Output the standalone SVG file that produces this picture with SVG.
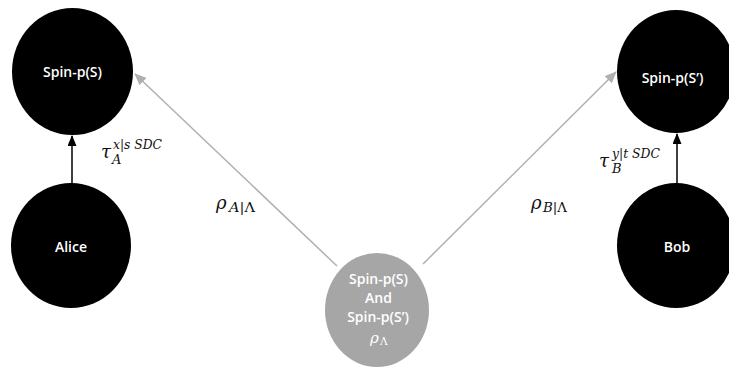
<svg xmlns="http://www.w3.org/2000/svg" width="729" height="368" viewBox="0 0 729 368">
<style>
.node{fill:#000}
.src{fill:#a6a6a6}
.lbl{font-family:"Open Sans","Liberation Sans",sans-serif;font-weight:600;font-size:14px;fill:#fff;text-anchor:middle}
.m{font-family:"DejaVu Serif","Liberation Serif",serif;font-style:italic;fill:#111}
.up{font-style:normal}
.blk{stroke:#000;stroke-width:1.5;fill:none}
.gry{stroke:#b0b0b0;stroke-width:1.5;fill:none}
</style>
<defs>
<marker id="ab" markerUnits="userSpaceOnUse" markerWidth="11" markerHeight="9" refX="10" refY="4.5" orient="auto"><path d="M0,0 L11,4.5 L0,9 z" fill="#000"/></marker>
<marker id="ag" markerUnits="userSpaceOnUse" markerWidth="12" markerHeight="10" refX="11" refY="5" orient="auto"><path d="M0,0 L12,5 L0,10 z" fill="#b0b0b0"/></marker>
</defs>
<rect width="729" height="368" fill="#fff"/>
<g id="connectors">
<line class="blk" x1="72" y1="184" x2="72" y2="136" marker-end="url(#ab)"/>
<line class="blk" x1="677" y1="184" x2="677" y2="134" marker-end="url(#ab)"/>
<line class="gry" x1="337" y1="266" x2="135" y2="74" marker-end="url(#ag)"/>
<line class="gry" x1="423" y1="264" x2="616" y2="72" marker-end="url(#ag)"/>
<g id="label-tauA">
<text class="m" x="101" y="158" font-size="18">τ</text>
<text class="m" x="113" y="149" font-size="12.5" textLength="49" lengthAdjust="spacingAndGlyphs">x|s SDC</text>
<text class="m" x="112" y="164" font-size="13">A</text>
</g>
<g id="label-tauB">
<text class="m" x="599" y="167" font-size="18">τ</text>
<text class="m" x="612" y="158" font-size="12.5" textLength="48" lengthAdjust="spacingAndGlyphs">y|t SDC</text>
<text class="m" x="612" y="173" font-size="13">B</text>
</g>
<g id="label-rhoA">
<text class="m" x="216" y="209" font-size="18">ρ</text>
<text class="m" x="229" y="212" font-size="12.5" textLength="26" lengthAdjust="spacingAndGlyphs">A|<tspan class="up">Λ</tspan></text>
</g>
<g id="label-rhoB">
<text class="m" x="531" y="209" font-size="18">ρ</text>
<text class="m" x="543" y="212" font-size="12.5" textLength="24" lengthAdjust="spacingAndGlyphs">B|<tspan class="up">Λ</tspan></text>
</g>
</g>
<g id="spinS">
<ellipse class="node" cx="72.5" cy="71.5" rx="60.5" ry="63.5"/>
<text class="lbl" x="72.5" y="77">Spin-p(S)</text>
</g>
<g id="spinS2">
<ellipse class="node" cx="676" cy="71.5" rx="59" ry="61.5"/>
<text class="lbl" x="672.5" y="83">Spin-p(S’)</text>
</g>
<g id="alice">
<ellipse class="node" cx="71" cy="245.5" rx="60" ry="62.5"/>
<text class="lbl" x="71" y="252">Alice</text>
</g>
<g id="bob">
<ellipse class="node" cx="676" cy="245.5" rx="59" ry="62.5"/>
<text class="lbl" x="677" y="252">Bob</text>
</g>
<g id="source">
<ellipse class="src" cx="377" cy="310" rx="52" ry="57"/>
<text class="lbl" x="378.5" y="284">Spin-p(S)</text>
<text class="lbl" x="378.5" y="303">And</text>
<text class="lbl" x="378" y="322">Spin-p(S’)</text>
<text class="m" x="370" y="343" font-size="15" style="fill:#fff">ρ</text>
<text class="m up" x="380" y="345" font-size="10.5" style="fill:#fff">Λ</text>
</g>
</svg>
